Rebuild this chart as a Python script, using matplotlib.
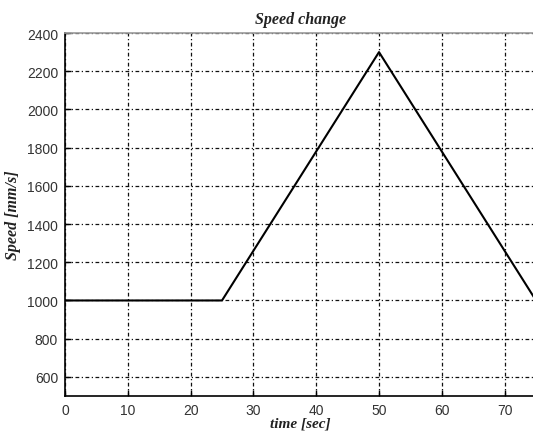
import matplotlib
matplotlib.use("Agg")
import matplotlib.pyplot as plt

# Speed profile: hold, ramp up, ramp down
time_sec = [0, 25, 50, 75]
speed_mm_s = [1000, 1000, 2300, 1000]

x_ticks = [0, 10, 20, 30, 40, 50, 60, 70]
y_ticks = [600, 800, 1000, 1200, 1400, 1600, 1800, 2000, 2200, 2400]

fig = plt.figure(figsize=(5.33, 4.35), dpi=100)
ax = fig.add_axes([65 / 533, 38 / 435, 471 / 533, 363 / 435])

ax.plot(time_sec, speed_mm_s, color="black", lw=1.5, zorder=3)

ax.set_xlim(0, 75)
ax.set_ylim(500, 2400)
ax.set_xticks(x_ticks)
ax.set_yticks(y_ticks)

ax.grid(True, color="#111111", linestyle=(0, (3, 2, 1, 2)), lw=0.9)
ax.tick_params(direction="in", length=4, width=1, colors="black",
               labelsize=10, pad=5)
for lbl in ax.get_xticklabels() + ax.get_yticklabels():
    lbl.set_fontfamily("Liberation Sans")
    lbl.set_color("#333333")

ax.spines["left"].set_color("black")
ax.spines["bottom"].set_color("black")
ax.spines["top"].set_color("#999999")
ax.spines["right"].set_visible(False)
for s in ax.spines.values():
    s.set_linewidth(1.2)

serif_kw = dict(family="Liberation Serif", style="italic", weight="bold",
                fontsize=11.5, color="#222222")
ax.set_title("Speed change", pad=7, **serif_kw)
ax.set_xlabel("time [sec]", labelpad=0, **{**serif_kw, "fontsize": 11})
ax.set_ylabel("Speed [mm/s]", labelpad=4, **serif_kw)

fig.savefig("out.png", dpi=100)
